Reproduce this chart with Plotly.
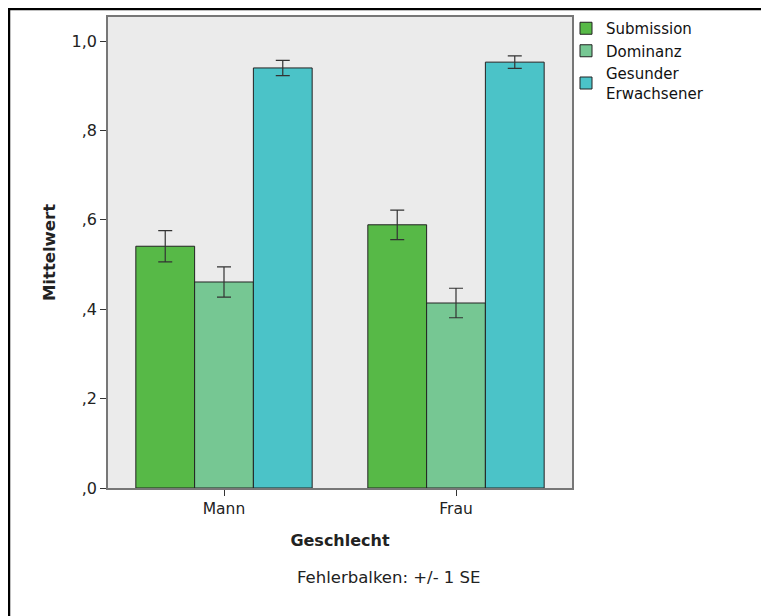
import plotly.graph_objects as go

categories = ["Mann", "Frau"]
series_names = ["Submission", "Dominanz", "Gesunder<br>Erwachsener"]
submission = [0.541, 0.589]
submission_se = [0.035, 0.033]
dominanz = [0.461, 0.414]
dominanz_se = [0.034, 0.033]
gesund = [0.940, 0.953]
gesund_se = [0.017, 0.014]
colors = ["#57b947", "#76c793", "#4bc3c8"]
tick_vals = [0.0, 0.2, 0.4, 0.6, 0.8, 1.0]
tick_text = [",0", ",2", ",4", ",6", ",8", "1,0"]

fig = go.Figure()
for name, vals, se, col in zip(series_names, [submission, dominanz, gesund],
                               [submission_se, dominanz_se, gesund_se], colors):
    fig.add_trace(go.Bar(
        x=categories, y=vals, name=name,
        marker=dict(color=col, line=dict(color="#222222", width=1)),
        error_y=dict(type="data", array=se, visible=True, color="#333333",
                     thickness=1.2, width=7),
    ))

OFF = 8  # page body margin
W, H = 769 - OFF, 616 - OFF
# page pixel positions of plot area
PL, PR, PT, PB = 108, 572, 17, 488
L, R, T, B = PL - OFF, (769 - PR), PT - OFF, (616 - PB)
pw, ph = W - L - R, H - T - B

def px2paper_x(x):
    return (x - OFF - L) / pw

def px2paper_y(y):
    return (H - B - (y - OFF)) / ph

def px2cont_y(y):
    return 1 - (y - OFF) / H

fig.update_layout(
    width=W, height=H,
    margin=dict(l=L, r=R, t=T, b=B, pad=0, autoexpand=False),
    paper_bgcolor="white", plot_bgcolor="#ebebeb",
    barmode="group", bargap=0.24, bargroupgap=0,
    font=dict(family="DejaVu Sans", size=14, color="#222222"),
    showlegend=True,
    legend=dict(x=px2paper_x(566), y=px2cont_y(12), yref="container",
                xanchor="left", yanchor="top",
                font=dict(size=15, color="#111111"), bgcolor="rgba(0,0,0,0)",
                tracegroupgap=0, itemwidth=30),
    xaxis=dict(showline=True, linecolor="#777777", linewidth=1.5, mirror=True,
               ticks="outside", ticklen=6, tickcolor="#333333",
               title=dict(text="<b>Geschlecht</b>", font=dict(size=16), standoff=17),
               tickfont=dict(size=15.5)),
    yaxis=dict(range=[0, 1.054], showline=True, linecolor="#777777", linewidth=1.5,
               mirror=True, showgrid=False, zeroline=False,
               tickvals=tick_vals, ticktext=tick_text, ticks="outside",
               ticklen=6, tickcolor="#333333", tickfont=dict(size=16),
               title=dict(text="<b>Mittelwert</b>", font=dict(size=16.5), standoff=12)),
    annotations=[dict(text="Fehlerbalken: +/- 1 SE", xref="paper", yref="paper",
                      x=px2paper_x(389), y=px2paper_y(577), showarrow=False,
                      xanchor="center", yanchor="middle",
                      font=dict(size=16.5, color="#222222"))],
    shapes=[
        dict(type="line", xref="paper", yref="paper",
             x0=px2paper_x(8), x1=px2paper_x(800), y0=px2paper_y(9), y1=px2paper_y(9),
             line=dict(color="black", width=2.5)),
        dict(type="line", xref="paper", yref="paper",
             x0=px2paper_x(9), x1=px2paper_x(9), y0=px2paper_y(8), y1=px2paper_y(640),
             line=dict(color="black", width=2.5)),
    ],
)

fig.write_html("out.html")
